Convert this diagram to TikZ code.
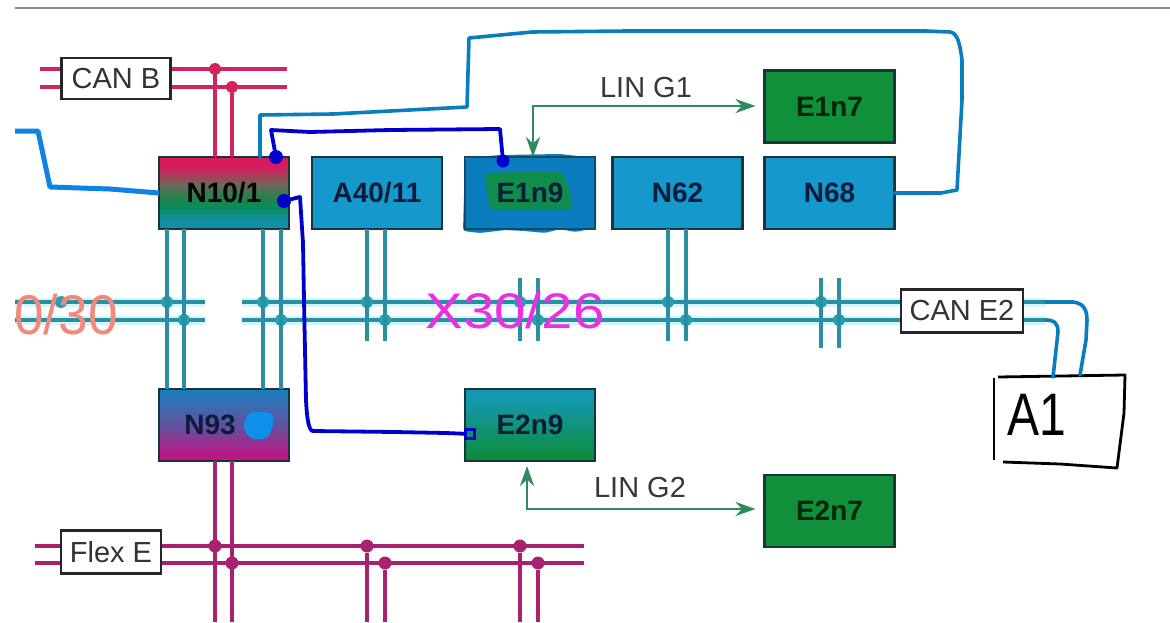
\documentclass[tikz,border=0pt]{standalone}
\usepackage{fontspec}
\setmainfont{Liberation Sans}
\usetikzlibrary{arrows.meta,calc}
\newcommand{\fsz}[1]{\fontsize{#1}{#1}\selectfont}
\pgfdeclareverticalshading{shnten}{100bp}{rgb(0bp)=(0.07,0.56,0.70); rgb(25bp)=(0.07,0.56,0.70); rgb(32bp)=(0.06,0.56,0.62); rgb(40bp)=(0.03,0.55,0.36); rgb(48bp)=(0.16,0.50,0.30); rgb(56bp)=(0.44,0.40,0.34); rgb(68bp)=(0.84,0.11,0.36); rgb(75bp)=(0.86,0.10,0.36); rgb(100bp)=(0.86,0.10,0.36)}
\pgfdeclareverticalshading{shnnin}{100bp}{rgb(0bp)=(0.76,0.08,0.52); rgb(28bp)=(0.76,0.08,0.52); rgb(50bp)=(0.38,0.32,0.62); rgb(75bp)=(0.10,0.50,0.74); rgb(100bp)=(0.10,0.50,0.74)}
\pgfdeclareverticalshading{shetwo}{100bp}{rgb(0bp)=(0.05,0.55,0.24); rgb(28bp)=(0.05,0.55,0.24); rgb(70bp)=(0.08,0.60,0.70); rgb(100bp)=(0.08,0.60,0.70)}
\definecolor{busteal}{HTML}{2B8FA3}
\definecolor{halo}{HTML}{D4F6FA}
\definecolor{canb}{HTML}{D0255F}
\definecolor{flex}{HTML}{A82270}
\definecolor{ecu}{HTML}{1598CC}
\definecolor{ecugreen}{HTML}{109038}
\definecolor{edge}{HTML}{17343F}
\definecolor{linline}{HTML}{2F8A5E}
\definecolor{hand}{HTML}{0A7DBE}
\definecolor{handbright}{HTML}{0F82E6}
\definecolor{handdark}{HTML}{0000CC}
\definecolor{ink}{HTML}{0A1C3C}
\definecolor{penpink}{HTML}{EC2EE4}
\definecolor{pensalmon}{HTML}{F08A7C}
\tikzset{
  x=1pt,y=-1pt,
  unit/.style={draw=edge,line width=2.4pt,minimum width=130pt,minimum height=72pt,inner sep=0pt,outer sep=0pt,font=\fsz{28}\bfseries,text=ink},
  blueunit/.style={unit,fill=ecu},
  greenunit/.style={unit,fill=ecugreen,text=black!75!ecugreen},
  tag/.style={draw=black!85,line width=2.4pt,fill=white,inner sep=0pt,outer sep=0pt,font=\fsz{29},text=black!80},
  linlabel/.style={inner sep=0pt,font=\fsz{29},text=black!78},
  tealbus/.style={draw=busteal,line width=3.4pt},
  tealhalo/.style={draw=halo,line width=9pt},
  canbus/.style={draw=canb,line width=3.4pt},
  flexbus/.style={draw=flex,line width=3.4pt},
  tealdot/.style={circle,fill=busteal!85!cyan,inner sep=0pt,minimum size=12pt},
  candot/.style={circle,fill=canb,inner sep=0pt,minimum size=12pt},
  flexdot/.style={circle,fill=flex,inner sep=0pt,minimum size=13pt},
  linarrow/.style={draw=linline,line width=2.8pt,{Stealth[length=20pt,width=14pt]}-{Stealth[length=20pt,width=14pt]}},
  handline/.style={draw=hand,line width=3.6pt,line join=round,line cap=round},
  handbrightline/.style={draw=handbright,line width=5pt,line join=round},
  handdarkline/.style={draw=handdark,line width=3.8pt,line join=round,line cap=round},
  darkdot/.style={circle,fill=handdark,inner sep=0pt,minimum size=14pt},
  sketch/.style={draw=black,line width=2.8pt,line join=round}
}
\begin{document}
\begin{tikzpicture}
\useasboundingbox (0,0) rectangle (1170,622);
\fill[white] (0,0) rectangle (1170,622);
% top rule
\coordinate (ruleL) at (15,8);
\coordinate (ruleR) at (1170,8);
\draw[black!45,line width=1.6pt] (ruleL) -- (ruleR);

% named end points of the buses
\coordinate (teLa) at (15,302);  \coordinate (teLb) at (15,320);
\coordinate (teMa) at (205,302); \coordinate (teMb) at (205,320);
\coordinate (teNa) at (242,302); \coordinate (teNb) at (242,320);
\coordinate (teRa) at (1046,302);\coordinate (teRb) at (1046,320);
\coordinate (cbLa) at (40,69);   \coordinate (cbLb) at (40,87);
\coordinate (cbRa) at (287,69);  \coordinate (cbRb) at (287,87);
\coordinate (flLa) at (35,546);  \coordinate (flLb) at (35,563);
\coordinate (flRa) at (584,546); \coordinate (flRb) at (584,563);

% halo under the teal buses
\draw[tealhalo] (teLa) -- (teMa) (teLb) -- (teMb) (teNa) -- (teRa) (teNb) -- (teRb);
\draw[tealbus] (teLa) -- (teMa) (teLb) -- (teMb) (teNa) -- (teRa) (teNb) -- (teRb);
\draw[canbus] (cbLa) -- (cbRa) (cbLb) -- (cbRb);
\draw[flexbus] (flLa) -- (flRa) (flLb) -- (flRb);

% junctions
\node[tealdot] (jl) at (61,302) {};
\node[tealdot] (ja1) at (167,302) {}; \node[tealdot] (ja2) at (184,320) {};
\node[tealdot] (jb1) at (263,302) {}; \node[tealdot] (jb2) at (281,320) {};
\node[tealdot] (jc1) at (367,302) {}; \node[tealdot] (jc2) at (385,320) {};
\node[tealdot] (jd1) at (520,302) {}; \node[tealdot] (jd2) at (538,320) {};
\node[tealdot] (je1) at (668,302) {}; \node[tealdot] (je2) at (686,320) {};
\node[tealdot] (jf1) at (821,302) {}; \node[tealdot] (jf2) at (839,320) {};
\node[candot] (ka1) at (215,69) {}; \node[candot] (ka2) at (232,87) {};
\node[flexdot] (ma1) at (215,546) {}; \node[flexdot] (ma2) at (232,563) {};
\node[flexdot] (mb1) at (367,546) {}; \node[flexdot] (mb2) at (385,563) {};
\node[flexdot] (mc1) at (520,546) {}; \node[flexdot] (mc2) at (538,563) {};

% free ends of stubs
\coordinate (sc1) at (367,341); \coordinate (sc2) at (385,341);
\coordinate (sdt1) at (520,278); \coordinate (sdt2) at (538,278);
\coordinate (sdb1) at (520,341); \coordinate (sdb2) at (538,341);
\coordinate (se1) at (668,341); \coordinate (se2) at (686,341);
\coordinate (sft1) at (821,278); \coordinate (sft2) at (839,278);
\coordinate (sfb1) at (821,348); \coordinate (sfb2) at (839,348);
\coordinate (bt1) at (215,622); \coordinate (bt2) at (232,622);
\coordinate (bb1) at (367,622); \coordinate (bb2) at (385,622);
\coordinate (bc1) at (520,622); \coordinate (bc2) at (538,622);

% units
\node[unit,shade,shading=shnten,text=black!85!ink] (n101) at (224,193) {N10/1};
\node[blueunit] (a40) at (377,193) {A40/11};
% hand-painted patch under E1n9
\fill[hand,rounded corners=3pt] (465,158) -- (500,155) -- (560,154) -- (596,158) -- (596,228) -- (575,232) -- (560,229) -- (545,233) -- (525,231) -- (505,230) -- (480,233) -- (463,231) -- cycle;
\fill[ecugreen!85!hand,rounded corners=6pt] (484,173) -- (562,171) -- (570,190) -- (572,210) -- (490,210) -- cycle;
\node[unit,draw=edge!70!hand] (e1n9) at (530,193) {E1n9};
\node[blueunit] (n62) at (677.5,193) {N62};
\node[blueunit] (n68) at (829.5,193) {N68};
\node[greenunit] (e1n7) at (829.5,106.5) {E1n7};
\node[unit,shade,shading=shnnin] (n93) at (224,425) {\mbox{N93\hspace{28pt}}};
\node[unit,shade,shading=shetwo] (e2n9) at (530,425) {E2n9};
\node[greenunit] (e2n7) at (829.5,511) {E2n7};

% stubs, teal
\draw[tealbus] (n101.south -| ja1) -- (n93.north -| ja1) (n101.south -| ja2) -- (n93.north -| ja2)
  (n101.south -| jb1) -- (n93.north -| jb1) (n101.south -| jb2) -- (n93.north -| jb2)
  (a40.south -| jc1) -- (sc1) (a40.south -| jc2) -- (sc2)
  (sdt1) -- (sdb1) (sdt2) -- (sdb2)
  (n62.south -| je1) -- (se1) (n62.south -| je2) -- (se2)
  (sft1) -- (sfb1) (sft2) -- (sfb2);
% stubs, CAN B and Flex E
\draw[canbus] (ka1) -- (n101.north -| ka1) (ka2) -- (n101.north -| ka2);
\draw[flexbus] (n93.south -| ma1) -- (bt1) (n93.south -| ma2) -- (bt2)
  (mb1) -- (bb1) (mb2) -- (bb2) (mc1) -- (bc1) (mc2) -- (bc2);

% tags
\node[tag,minimum width=109pt,minimum height=41pt] (canb) at (116,78.5) {CAN B};
\node[tag,minimum width=100pt,minimum height=43pt] (flexe) at (111,552) {Flex E};
\node[tag,minimum width=122pt,minimum height=43pt] (cane) at (962,311) {CAN E2};

% LIN buses
\coordinate (lina) at (533,106);
\coordinate (linb) at (527,509);
\draw[linarrow] (e1n9.north -| lina) -- (lina) -- ([xshift=-9pt]lina -| e1n7.west);
\draw[linarrow] ([yshift=-5pt]e2n9.south -| linb) -- (linb) -- ([xshift=-9pt]linb -| e2n7.west);
\node[linlabel] (ling1) at (646,88) {LIN G1};
\node[linlabel] (ling2) at (640,488) {LIN G2};

% hand-drawn connectors
\coordinate (lft) at (15,131);
\draw[handbrightline] (lft) -- (38,131) -- (50,187) -- (110,189) -- (n101.west);
\draw[handline] (260,157) -- (260,115) -- (333,114) -- (467,107) -- (469,38) -- (532,32) -- (627,31) -- (926,31) -- (950,32) .. controls (958,33) and (960,45) .. (962,60) -- (962,100) -- (957,190) -- (941,193) -- (n68.east);
\node[darkdot] (d1) at (276,157) {};
\node[darkdot,minimum size=13pt] (d2) at (503,161) {};
\node[darkdot] (d3) at (284,201) {};
\node[draw=handdark,line width=3pt,minimum size=9pt,inner sep=0pt] (d4) at (470,434) {};
\draw[handdarkline] (d1) -- (271,130) -- (310,132) -- (390,130) -- (500,129) -- (d2);
\draw[handdarkline] (d3) -- (300,197) -- (303,243) -- (304,300) -- (306,400) .. controls (307,420) and (309,431) .. (313,431) -- (395,432) -- (446,433) -- (d4);
% blob on N93
\fill[handbright!90!cyan,rounded corners=5pt] (248,412) -- (272,412) -- (274,422) -- (268,439) -- (250,439) -- (243,428) -- cycle;

% A1 sketch
\coordinate (aA) at (998,377);
\coordinate (aB) at (1125,375);
\coordinate (aC) at (1124,413);
\coordinate (aD) at (1117,468);
\coordinate (aE) at (1003,462);
\coordinate (aF) at (994,378);
\coordinate (aG) at (994,460);
\draw[sketch] (aA) -- (aB) -- (aC) -- (aD) -- (1060,464) -- (aE);
\draw[sketch] (aF) -- (aG);
\node[inner sep=0pt,font=\fsz{60},text=black] (aone) at (1037,415) {\scalebox{0.8}[1]{A1}};
\draw[handline] (teRa) -- (1073,302) .. controls (1082,303) and (1087,308) .. (1087,320) -- (1086,340) -- (aB -| 1080,0);
\draw[handline] (teRb) .. controls (1053,320) and (1058,322) .. (1058,332) -- (aA -| 1053,0);

% hand-written labels
\node[inner sep=0pt,font=\fsz{50},text=penpink] (xlabel) at (515,311) {\scalebox{1.13}[1]{X30/26}};
\begin{scope}
\clip (15,250) rectangle (200,360);
\node[inner sep=0pt,font=\fsz{56},text=pensalmon,anchor=east] (olabel) at (118,314) {\scalebox{0.95}[1]{0/30}};
\end{scope}
\end{tikzpicture}
\end{document}
